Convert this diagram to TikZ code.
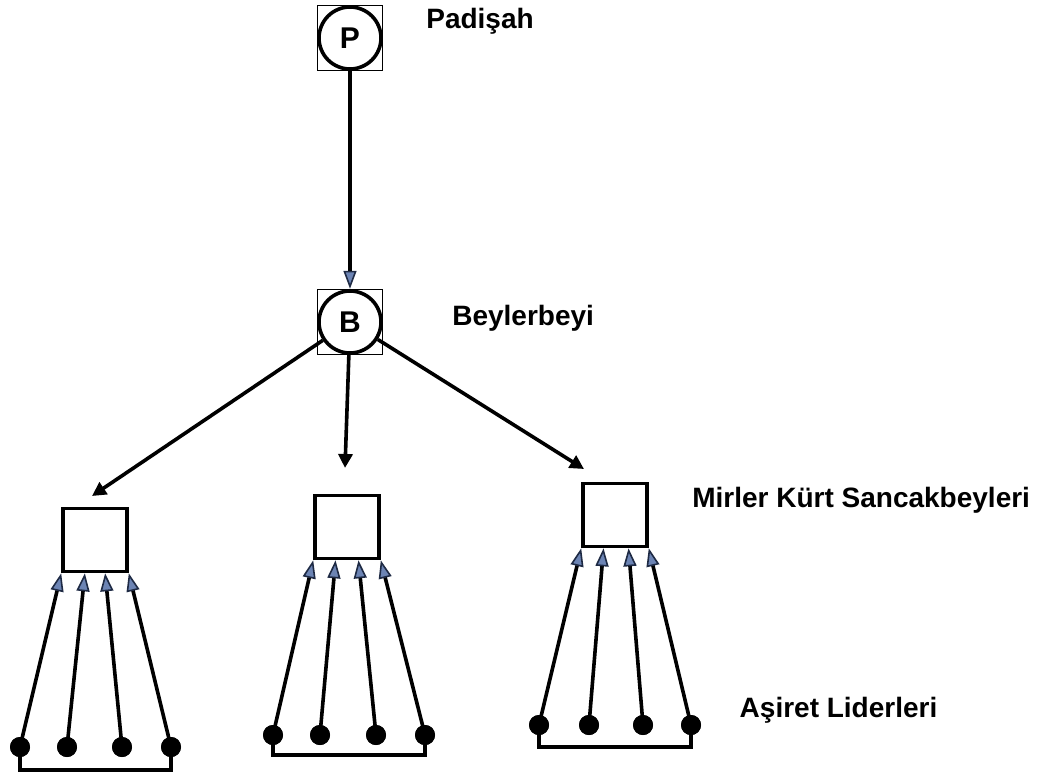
\documentclass[tikz,border=0pt]{standalone}
\usepackage{fontspec}
\setmainfont{Liberation Sans}
\usetikzlibrary{
  positioning,
  arrows.meta,
  calc
}
\definecolor{tipfill}{HTML}{6C84B4}
\definecolor{tipedge}{HTML}{1E2A44}

\begin{document}
\begin{tikzpicture}[
    x=1pt,y=-1pt,
    font=\bfseries,
    ruler/.style={
      circle,
      draw=black,
      fill=white,
      line width=3.6pt,
      minimum size=62pt,
      inner sep=0pt,
      font=\fontsize{30}{32}\selectfont\bfseries
    },
    frame/.style={
      draw=black,
      line width=1.4pt,
      minimum size=65pt,
      inner sep=0pt
    },
    sancak/.style={
      draw=black,
      line width=3.6pt,
      minimum width=64pt,
      minimum height=63pt,
      inner sep=0pt
    },
    leader/.style={
      circle,
      fill=black,
      minimum size=20pt,
      inner sep=0pt
    },
    tag/.style={
      align=left,
      font=\fontsize{28}{30}\selectfont\bfseries
    },
    down arrow/.style={
      line width=3.6pt,
      -{Triangle[length=14pt,width=14pt]}
    },
    up arrow/.style={
      line width=3.6pt,
      -{Triangle[length=18pt,width=13pt,line width=1.6pt,color=tipedge,fill=tipfill]}
    },
    base line/.style={
      line width=3.6pt
    }
  ]
  \useasboundingbox (0,0) rectangle (1041,779);

  % Padisah
  \node[frame] (pframe) at (350,38) {};
  \node[ruler] (P) at (350,38) {P};
  \node[tag, right=40pt of P, yshift=17pt] (padisah) {Padişah};

  % Beylerbeyi
  \node[frame] (bframe) at (350,322) {};
  \node[ruler] (B) at (350,322) {B};
  \node[tag, right=66pt of B, yshift=4pt] (beylerbeyi) {Beylerbeyi};

  \draw[up arrow] (P) -- (bframe.north);

  % Sancakbeyleri
  \node[sancak] (m1) at (95,540) {};
  \node[sancak] (m2) at (347,527) {};
  \node[sancak] (m3) at (615,515) {};
  \node[tag, right=40pt of m3, yshift=15pt] (mirler) {Mirler Kürt Sancakbeyleri};

  \coordinate (t1) at (92,496);
  \coordinate (t2) at (345,468);
  \coordinate (t3) at (584,469);
  \draw[down arrow] (B) -- (t1);
  \draw[down arrow] (B) -- (t2);
  \draw[down arrow] (B) -- (t3);

  % Asiret liderleri, left
  \node[leader] (a1) at (20,747) {};
  \node[leader] (a2) at (67,747) {};
  \node[leader] (a3) at (122,747) {};
  \node[leader] (a4) at (171,747) {};
  \draw[up arrow] (a1.center) -- (m1.south west);
  \draw[up arrow] (a2.center) -- ($(m1.south west)!.35!(m1.south east)$);
  \draw[up arrow] (a3.center) -- ($(m1.south west)!.65!(m1.south east)$);
  \draw[up arrow] (a4.center) -- (m1.south east);
  \draw[base line] (a1.center) -- ++(0,23) -| (a4.center);

  % Asiret liderleri, middle
  \node[leader] (b1) at (273,735) {};
  \node[leader] (b2) at (320,735) {};
  \node[leader] (b3) at (376,735) {};
  \node[leader] (b4) at (425,735) {};
  \draw[up arrow] (b1.center) -- (m2.south west);
  \draw[up arrow] (b2.center) -- ($(m2.south west)!.33!(m2.south east)$);
  \draw[up arrow] (b3.center) -- ($(m2.south west)!.67!(m2.south east)$);
  \draw[up arrow] (b4.center) -- (m2.south east);
  \draw[base line] (b1.center) -- ++(0,20) -| (b4.center);

  % Asiret liderleri, right
  \node[leader] (c1) at (539,725) {};
  \node[leader] (c2) at (589,725) {};
  \node[leader] (c3) at (643,725) {};
  \node[leader] (c4) at (691,725) {};
  \draw[up arrow] (c1.center) -- (m3.south west);
  \draw[up arrow] (c2.center) -- ($(m3.south west)!.33!(m3.south east)$);
  \draw[up arrow] (c3.center) -- ($(m3.south west)!.7!(m3.south east)$);
  \draw[up arrow] (c4.center) -- (m3.south east);
  \draw[base line] (c1.center) -- ++(0,22) -| (c4.center);
  \node[tag, right=35pt of c4, yshift=15pt] (asiret) {Aşiret Liderleri};

  % leaders on top of the lines
  \foreach \d in {a1,a2,a3,a4,b1,b2,b3,b4,c1,c2,c3,c4}
    \fill (\d) circle (10);
\end{tikzpicture}
\end{document}
